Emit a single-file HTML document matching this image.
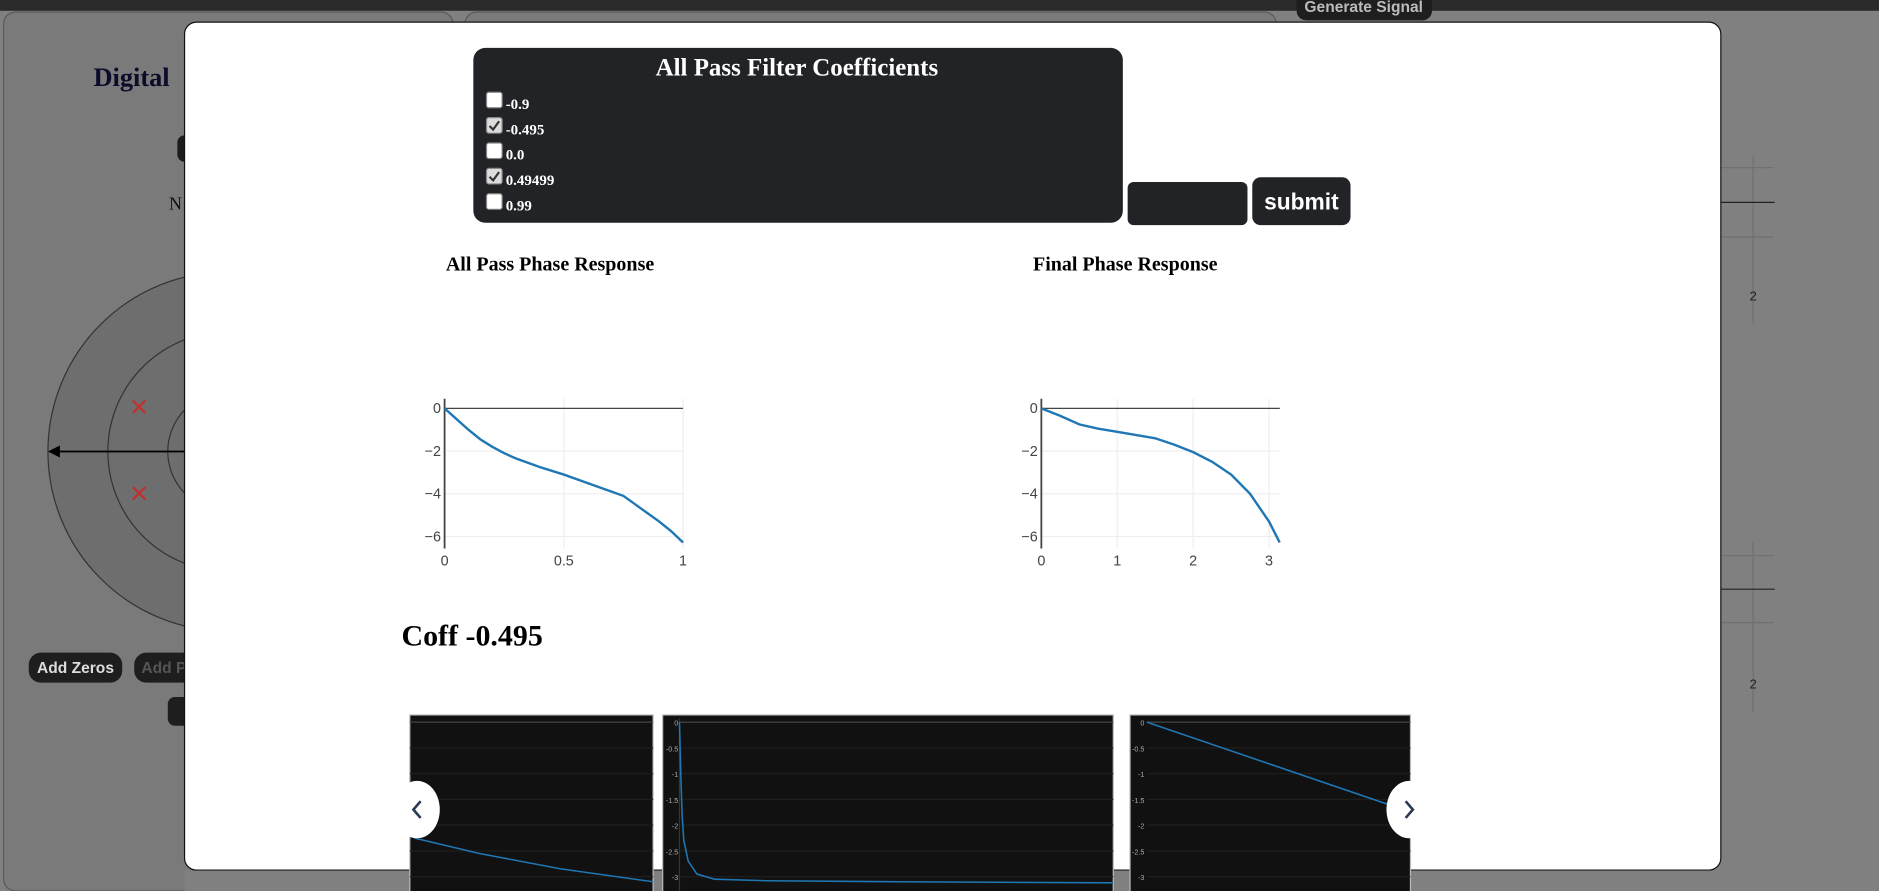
<!DOCTYPE html>
<html><head><meta charset="utf-8"><style>
html,body{margin:0;padding:0;background:#808080;overflow:hidden}
svg{display:block}
text{font-family:"Liberation Serif",serif}
.sans{font-family:"Liberation Sans",sans-serif}
</style></head><body>
<svg id="s" width="1879" height="891" viewBox="0 0 1568 744" preserveAspectRatio="none">
<rect x="0" y="0" width="1568" height="744" fill="#808080"/>
<rect x="0" y="0" width="1568" height="9" fill="#2a2a2a"/>
<rect x="3" y="10" width="375" height="734" rx="10" fill="#7a7a7a" stroke="#5a5a5a"/>
<rect x="388" y="10" width="677" height="20" rx="10" fill="#7a7a7a" stroke="#5a5a5a"/>
<text x="78" y="72" font-size="22" font-weight="bold" fill="#0b0b2a">Digital</text>
<rect x="148" y="113" width="20" height="22" rx="6" fill="#1c1c1c"/>
<text x="141" y="175" font-size="15" fill="#111">N</text>
<g>
<circle cx="190" cy="377" r="150" fill="#6e6e6e" stroke="#333"/>
<circle cx="190" cy="377" r="100" fill="none" stroke="#333"/>
<circle cx="190" cy="377" r="50" fill="none" stroke="#333"/>
<line x1="42" y1="377" x2="190" y2="377" stroke="#000" stroke-width="1.5"/>
<polygon points="40,377 50,372 50,382" fill="#000"/>
<text x="116" y="347" font-size="20" fill="#c03030" text-anchor="middle" class="sans">✕</text>
<text x="116" y="419" font-size="20" fill="#c03030" text-anchor="middle" class="sans">✕</text>
</g>
<rect x="24" y="545" width="78" height="25" rx="10" fill="#1e1e1e"/>
<text x="63" y="562" font-size="13" font-weight="bold" fill="#ddd" text-anchor="middle" class="sans">Add Zeros</text>
<rect x="112" y="545" width="50" height="25" rx="10" fill="#1e1e1e"/>
<text x="118" y="562" font-size="13" font-weight="bold" fill="#555" class="sans">Add P</text>
<rect x="140" y="582" width="20" height="24" rx="6" fill="#1e1e1e"/>
<rect x="1082" y="-6" width="113" height="23" rx="8" fill="#1e1e1e"/>
<text x="1138" y="10" font-size="13" font-weight="bold" fill="#bbb" text-anchor="middle" class="sans">Generate Signal</text>
<g stroke="#6f6f6f" stroke-width="1">
<line x1="1463" y1="130" x2="1463" y2="270"/><line x1="1436" y1="198" x2="1480" y2="198"/><line x1="1436" y1="140" x2="1480" y2="140"/>
<line x1="1463" y1="452" x2="1463" y2="595"/><line x1="1436" y1="520" x2="1480" y2="520"/><line x1="1436" y1="464" x2="1480" y2="464"/>
</g>
<line x1="1436" y1="169" x2="1481" y2="169" stroke="#222"/>
<line x1="1436" y1="492" x2="1481" y2="492" stroke="#222"/>
<text x="1463" y="251" font-size="11" fill="#222" text-anchor="middle" class="sans">2</text>
<text x="1463" y="575" font-size="11" fill="#222" text-anchor="middle" class="sans">2</text>

<rect x="154" y="18.5" width="1282" height="708" rx="10" fill="#fff" stroke="#111"/>
<g>
<rect x="395" y="40" width="542" height="146" rx="10" fill="#212327"/>
<text x="665" y="63" font-size="20.8" font-weight="bold" fill="#fff" text-anchor="middle">All Pass Filter Coefficients</text>
</g>
<g id="checks"></g>
<rect x="941" y="152" width="100" height="36" rx="5" fill="#212327"/>
<rect x="1045" y="148" width="82" height="40" rx="7" fill="#212327"/>
<text x="1086" y="175" font-size="19" font-weight="bold" fill="#fff" text-anchor="middle" class="sans">submit</text>

<text x="459" y="226" font-size="16.7" font-weight="bold" fill="#000" text-anchor="middle">All Pass Phase Response</text>
<text x="939" y="226" font-size="16.7" font-weight="bold" fill="#000" text-anchor="middle">Final Phase Response</text>
<g id="c1"></g>
<g id="c2"></g>

<text x="335" y="539" font-size="25" font-weight="bold" fill="#000">Coff -0.495</text>

<rect x="154" y="727" width="1282" height="17" fill="#808080"/>
<g id="car"></g>
</svg>
<script>
const coeffLabels = ["-0.9","-0.495","0.0","0.49499","0.99"];
const coeffChecked = [false,true,false,true,false];
const apX = [0,0.05,0.1,0.15,0.2,0.25,0.3,0.4,0.5,0.6,0.7,0.75,0.8,0.85,0.9,0.95,1];
const apY = [0,-0.5,-1.0,-1.45,-1.8,-2.1,-2.35,-2.75,-3.1,-3.5,-3.9,-4.1,-4.5,-4.9,-5.3,-5.75,-6.28];
const fpX = [0,0.25,0.5,0.75,1,1.25,1.5,1.75,2,2.25,2.5,2.75,3,3.14];
const fpY = [0,-0.35,-0.75,-0.95,-1.1,-1.25,-1.4,-1.7,-2.05,-2.5,-3.1,-4.0,-5.3,-6.28];
const yTicks = [0,-2,-4,-6];
const yTickLabels = ["0","\u22122","\u22124","\u22126"];
const ap_xTicks = [0,0.5,1], ap_xTickLabels = ["0","0.5","1"];
const fp_xTicks = [0,1,2,3], fp_xTickLabels = ["0","1","2","3"];
const p1X = [0.44,0.6,0.8,1.03], p1Y = [-2.25,-2.55,-2.85,-3.1];
const p2X = [0,0.003,0.006,0.01,0.02,0.04,0.08,0.2,0.5,1], p2Y = [0,-1.0,-1.8,-2.3,-2.7,-2.95,-3.05,-3.08,-3.1,-3.12];
const p3X = [0,1], p3Y = [0,-1.65];
const p2yTicks = [0,-0.5,-1,-1.5,-2,-2.5,-3];

const NS="http://www.w3.org/2000/svg";
function mk(parent,tag,attrs,txt){const e=document.createElementNS(NS,tag);for(const k in attrs)e.setAttribute(k,attrs[k]);if(txt!==undefined)e.textContent=txt;parent.appendChild(e);return e;}

const ck=document.getElementById('checks');
coeffLabels.forEach((l,i)=>{
  const y=84+i*21.2;
  const b=mk(ck,'rect',{x:406,y:y-7,width:13,height:13,rx:2,fill:coeffChecked[i]?'#dcdcdc':'#fff',stroke:'#888'});
  
  
  if(coeffChecked[i]) mk(ck,'path',{d:`M${408.5} ${y} l3 3 l5 -7`,stroke:'#333','stroke-width':1.8,fill:'none'});
  const t=mk(ck,'text',{x:422,y:y+7,'font-size':12.5,'font-weight':'bold',fill:'#fff'},l);
  
  
});

function chart(g,xs,ys,xTicks,xLabels,x0,xPer,xEnd){
  const X=v=>x0+v*xPer, Y=v=>341-v*17.83;
  xTicks.forEach(v=>{if(v>0)mk(g,'line',{x1:X(v),x2:X(v),y1:333,y2:458,stroke:'#eee'});});
  yTicks.forEach(v=>{if(v<0)mk(g,'line',{x1:x0,x2:xEnd,y1:Y(v),y2:Y(v),stroke:'#eee'});});
  mk(g,'line',{x1:x0,x2:xEnd,y1:Y(0),y2:Y(0),stroke:'#444','stroke-width':1});
  mk(g,'line',{x1:x0,x2:x0,y1:333,y2:458,stroke:'#444','stroke-width':1.5});
  yTicks.forEach((v,i)=>{const t=mk(g,'text',{x:x0-3,y:Y(v)+4,'font-size':12,fill:'#444','text-anchor':'end',class:'sans'},yTickLabels[i]);});
  xTicks.forEach((v,i)=>{const t=mk(g,'text',{x:X(v),y:472,'font-size':12,fill:'#444','text-anchor':'middle',class:'sans'},xLabels[i]);});
  const p=mk(g,'polyline',{points:xs.map((v,i)=>X(v)+','+Y(ys[i])).join(' '),fill:'none',stroke:'#1f77b4','stroke-width':2});
  
  
}
chart(document.getElementById('c1'),apX,apY,ap_xTicks,ap_xTickLabels,371,199,570);
chart(document.getElementById('c2'),fpX,fpY,fp_xTicks,fp_xTickLabels,869,63.33,1068);

const car=document.getElementById('car');
const panels=[[342,545],[553,929],[943,1177]];
panels.forEach((p,i)=>{
  const r=mk(car,'rect',{x:p[0],y:597,width:p[1]-p[0],height:150,fill:'#111',stroke:'#bbb','stroke-width':1});
  
  
});
function pline(xs,ys,X,Y,clipL,clipR){
  const pts=xs.map((v,i)=>[X(v),Y(ys[i])]);
  const pl=mk(car,'polyline',{points:pts.map(q=>Math.min(Math.max(q[0],clipL),clipR)+','+q[1]).join(' '),fill:'none',stroke:'#1f77b4','stroke-width':1.3});
  
  
}
[[342,545],[567,929],[957,1177]].forEach(p=>{
  p2yTicks.forEach(v=>{if(v<0){const yy=603-v*43;mk(car,'line',{x1:p[0],x2:p[1],y1:yy,y2:yy,stroke:'#1e1e1e'});}});
  mk(car,'line',{x1:p[0],x2:p[1],y1:603,y2:603,stroke:'#444'});
});
p2yTicks.forEach(v=>{
  mk(car,'text',{x:566,y:603-v*43+3,'font-size':6,fill:'#aaa','text-anchor':'end',class:'sans'},String(v));
  mk(car,'text',{x:955,y:603-v*43+3,'font-size':6,fill:'#aaa','text-anchor':'end',class:'sans'},String(v));
});
mk(car,'line',{x1:567,x2:567,y1:600,y2:744,stroke:'#333'});
pline(p1X,p1Y,v=>400+(v-0.6)*340,v=>603-v*43,342,545);
pline(p2X,p2Y,v=>567+v*365,v=>603-v*43,567,929);
pline(p3X,p3Y,v=>957+v*208,v=>603-v*43,957,1177);
[[348,'‹'],[1176,'›']].forEach((a,i)=>{
  const c=mk(car,'ellipse',{cx:a[0],cy:676,rx:19,ry:24,fill:'#fff'});
  
  
  mk(car,'path',{d:i?`M${a[0]-3} 669 l6 7 l-6 7`:`M${a[0]+3} 669 l-6 7 l6 7`,stroke:'#2a3a55','stroke-width':2.2,fill:'none'});
});
</script>
</body></html>
